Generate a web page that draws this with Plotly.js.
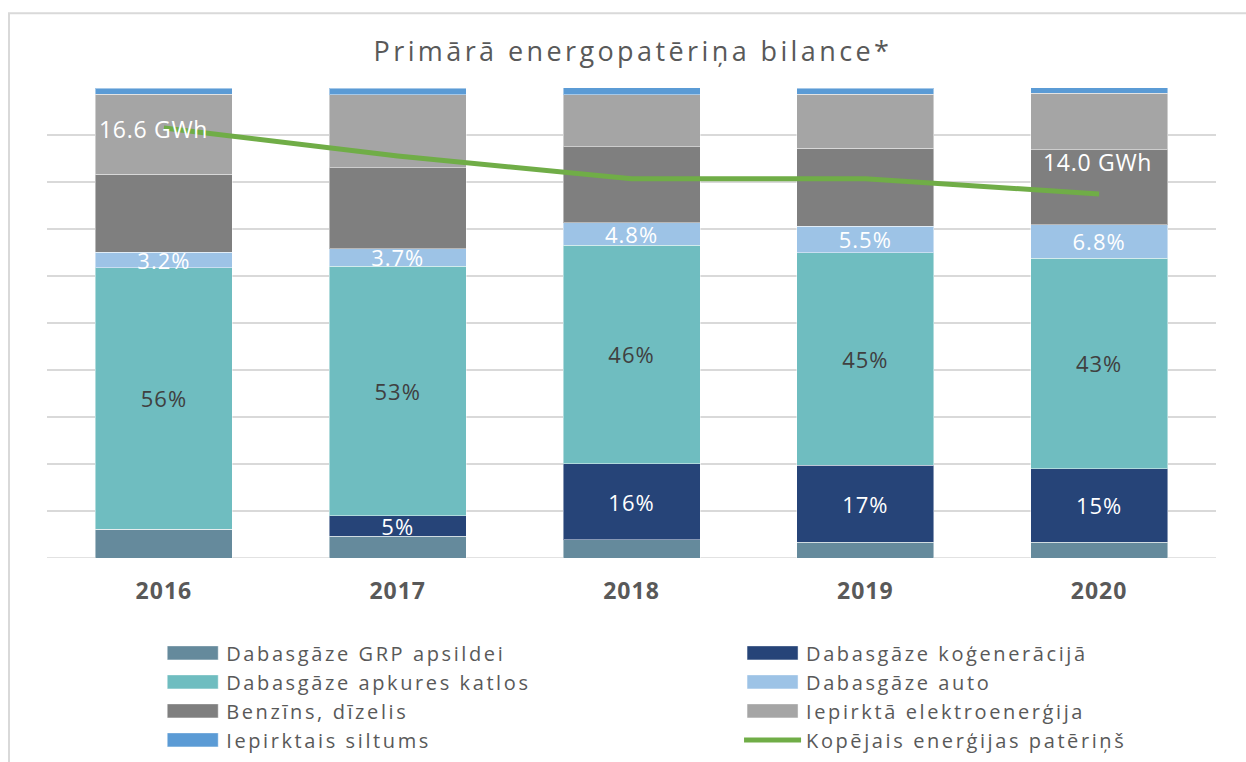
<!DOCTYPE html>
<html>
<head>
<meta charset="utf-8">
<script src="https://cdn.plot.ly/plotly-3.0.1.min.js"></script>
<style>
html,body{margin:0;padding:0;background:#fff;}
#chart{width:1246px;height:762px;}
.gtitle{letter-spacing:3.4px;}
.legendtext{letter-spacing:2.6px;}
.xtick text{letter-spacing:1px;}
.bartext{letter-spacing:1px;}
.annotation-text{letter-spacing:0.7px;}
.legendpoints path{d:path("M-25.5,7H25.5V-7H-25.5Z");}
</style>
</head>
<body>
<div id="chart"></div>
<script>
const years = ['2016', '2017', '2018', '2019', '2020'];

const seriesNames = [
  'Dabasgāze GRP apsildei',
  'Dabasgāze koģenerācijā',
  'Dabasgāze apkures katlos',
  'Dabasgāze auto',
  'Benzīns, dīzelis',
  'Iepirktā elektroenerģija',
  'Iepirktais siltums'
];

const grpApsildei   = [6.1, 4.6, 3.9, 3.3, 3.4];
const kogeneracija  = [0, 4.4, 16.2, 16.4, 15.6];
const apkuresKatlos = [55.7, 53.1, 46.4, 45.3, 44.8];
const gazeAuto      = [3.3, 3.7, 4.8, 5.6, 7.1];
const benzinsDizel  = [16.5, 17.2, 16.2, 16.6, 16.0];
const elektro       = [17.1, 15.6, 11.1, 11.5, 12.0];
const siltums       = [1.3, 1.4, 1.5, 1.2, 1.2];

const kogenLabels  = ['', '5%', '16%', '17%', '15%'];
const katlosLabels = ['56%', '53%', '46%', '45%', '43%'];
const autoLabels   = ['3.2%', '3.7%', '4.8%', '5.5%', '6.8%'];

const totalName = 'Kopējais enerģijas patēriņš';
const totalGWh = [16.6, 15.5, 14.6, 14.6, 14.0];

const FONT = '"Open Sans", sans-serif';
const colors = ['#658A9C', '#264478', '#6FBDC0', '#9DC3E6', '#7F7F7F', '#A5A5A5', '#5B9BD5'];
const values = [grpApsildei, kogeneracija, apkuresKatlos, gazeAuto, benzinsDizel, elektro, siltums];
const labels = [null, kogenLabels, katlosLabels, autoLabels, null, null, null];
const labelColors = [null, '#FFFFFF', '#404040', '#FFFFFF', null, null, null];
// left legend column: GRP, katlos, benzins, siltums; right column: the rest
const legendOf = ['legend', 'legend2', 'legend', 'legend2', 'legend', 'legend2', 'legend'];

const traces = values.map((v, i) => {
  const t = {
    type: 'bar',
    name: seriesNames[i],
    x: years,
    y: v,
    legend: legendOf[i],
    marker: {color: colors[i], line: {color: 'rgba(255,255,255,0.45)', width: 1}},
    hoverinfo: 'name+y'
  };
  if (labels[i]) {
    t.text = labels[i];
    t.textposition = 'inside';
    t.insidetextanchor = 'middle';
    t.textangle = 0;
    t.constraintext = 'none';
    t.texttemplate = '%{text}';
    t.textfont = {family: FONT, size: 22, color: labelColors[i]};
  } else {
    t.textposition = 'none';
  }
  return t;
});

traces.push({
  type: 'scatter',
  mode: 'lines',
  name: totalName,
  x: years,
  y: totalGWh,
  yaxis: 'y2',
  legend: 'legend2',
  line: {color: '#70AD47', width: 5}
});

const legendCommon = {
  orientation: 'v',
  traceorder: 'normal',
  xanchor: 'left',
  yanchor: 'top',
  font: {family: FONT, size: 20, color: '#595959'},
  itemwidth: 57,
  bgcolor: 'rgba(0,0,0,0)',
  borderwidth: 0
};

const layout = {
  width: 1246,
  height: 762,
  paper_bgcolor: '#FFFFFF',
  plot_bgcolor: '#FFFFFF',
  font: {family: FONT, color: '#595959'},
  barmode: 'stack',
  bargap: 0.414,
  margin: {l: 47, r: 30, t: 88, b: 203.5, autoexpand: false},
  title: {
    text: 'Primārā energopatēriņa bilance*',
    font: {family: FONT, size: 27, color: '#595959'},
    x: 0.508, xanchor: 'center',
    y: 0.932, yanchor: 'middle'
  },
  xaxis: {
    type: 'category',
    range: [-0.5, years.length - 0.5],
    tickfont: {family: FONT, size: 23, color: '#595959', weight: 'bold'},
    ticks: 'outside', ticklen: 12, tickcolor: 'rgba(0,0,0,0)',
    showline: false, showgrid: false, fixedrange: true
  },
  yaxis: {
    range: [0, 100],
    dtick: 10,
    showticklabels: false,
    gridcolor: '#D9D9D9', gridwidth: 1.5,
    zeroline: false,
    showline: false,
    fixedrange: true
  },
  yaxis2: {
    overlaying: 'y',
    side: 'right',
    range: [-0.36, 18.18],
    visible: false,
    showgrid: false,
    fixedrange: true
  },
  showlegend: true,
  legend: Object.assign({}, legendCommon, {x: 0.096, y: -0.1604}),
  legend2: Object.assign({}, legendCommon, {x: 0.592, y: -0.1604}),
  annotations: [
    {
      xref: 'x', yref: 'y2', x: 0, y: totalGWh[0],
      text: totalGWh[0].toFixed(1) + ' GWh', showarrow: false,
      xshift: -10, yshift: -1,
      font: {family: FONT, size: 23, color: '#FFFFFF'}
    },
    {
      xref: 'x', yref: 'y2', x: years.length - 1, y: totalGWh[years.length - 1],
      text: totalGWh[years.length - 1].toFixed(1) + ' GWh', showarrow: false,
      xshift: -2, yshift: 32,
      font: {family: FONT, size: 23, color: '#FFFFFF'}
    }
  ],
  shapes: [
    {
      type: 'rect', xref: 'paper', yref: 'paper',
      x0: -0.0325, x1: 1.05, y0: -0.5, y1: 1.159,
      line: {color: '#D9D9D9', width: 2}, fillcolor: 'rgba(0,0,0,0)', layer: 'below'
    },
    {
      type: 'line', xref: 'paper', yref: 'y',
      x0: 0, x1: 1, y0: 0, y1: 0,
      line: {color: '#D9D9D9', width: 1.5}, layer: 'below'
    }
  ]
};

Plotly.newPlot('chart', traces, layout, {displayModeBar: false, staticPlot: true}).then(gd => {
  gd.querySelectorAll('g.legend text, g.legend2 text').forEach(t => { t.style.letterSpacing = '2.6px'; });
  gd.querySelectorAll('g.legend .scrollbox, g.legend2 .scrollbox').forEach(n => n.removeAttribute('clip-path'));
});
</script>
</body>
</html>
